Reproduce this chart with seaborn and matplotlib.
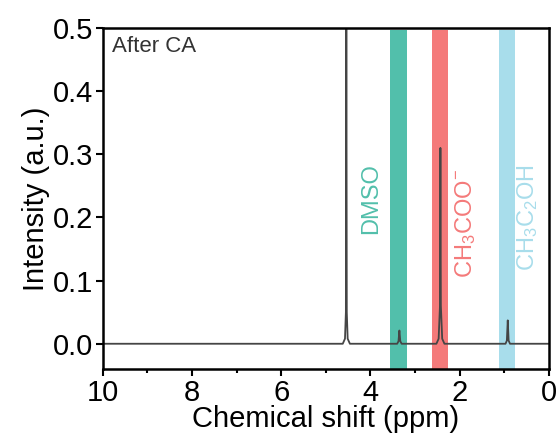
import seaborn as sns
import pandas as pd
import matplotlib.pyplot as plt
from matplotlib.ticker import MultipleLocator

# spectrum points (ppm, intensity)
shift = [10.0, 4.62, 4.57, 4.55, 4.54, 4.53, 4.51, 4.46,
         3.40, 3.37, 3.35, 3.33, 3.30,
         2.52, 2.47, 2.44, 2.43, 2.42, 2.39, 2.34,
         0.97, 0.94, 0.92, 0.90, 0.87, 0.0]
intensity = [0.0, 0.0, 0.008, 0.05, 0.6, 0.05, 0.008, 0.0,
             0.0, 0.004, 0.021, 0.004, 0.0,
             0.0, 0.008, 0.06, 0.31, 0.06, 0.008, 0.0,
             0.0, 0.005, 0.037, 0.005, 0.0, 0.0]

# assignment bands: label, left ppm, right ppm, colour
band_labels = ["DMSO", r"CH$_3$COO$^{-}$", r"CH$_3$C$_2$OH"]
band_left = [3.57, 2.61, 1.12]
band_right = [3.19, 2.27, 0.76]
band_colors = ["#52bfab", "#f47a7a", "#a8ddeb"]
label_x = [3.98, 1.87, 0.47]
label_y = [0.23, 0.19, 0.20]

df = pd.DataFrame({"shift": shift, "intensity": intensity})

sns.set_style("ticks")
plt.rcParams["font.family"] = ["Liberation Sans", "DejaVu Sans"]
plt.rcParams["mathtext.default"] = "regular"

fig = plt.figure(figsize=(5.56, 4.43), dpi=100)
ax = fig.add_axes([0.185, 0.167, 0.802, 0.770])

ylo, yhi = -0.04, 0.5
for lab, l, r, c, tx, ty in zip(band_labels, band_left, band_right,
                                band_colors, label_x, label_y):
    ax.axvspan(r, l, ymin=0, ymax=(0.497 - ylo) / (yhi - ylo),
               color=c, lw=0, zorder=1)
    ax.text(tx, ty, lab, rotation=90, color=c, fontsize=17,
            ha="center", va="center")

sns.lineplot(data=df, x="shift", y="intensity", ax=ax, color="#454545",
             lw=1.3, zorder=3)

ax.set_xlim(10, 0)
ax.set_ylim(ylo, yhi)
ax.xaxis.set_major_locator(MultipleLocator(2))
ax.xaxis.set_minor_locator(MultipleLocator(1))
ax.yaxis.set_major_locator(MultipleLocator(0.1))
ax.tick_params(axis="both", which="major", labelsize=21, width=1.5,
               length=5, direction="out", pad=2, colors="black")
ax.tick_params(axis="x", which="minor", width=1.5, length=3,
               direction="out", colors="black")
for s in ax.spines.values():
    s.set_linewidth(1.8)
    s.set_color("black")
    s.set_zorder(4)

ax.set_xlabel("Chemical shift (ppm)", fontsize=21, labelpad=-1,
              color="black")
ax.set_ylabel("Intensity (a.u.)", fontsize=21, labelpad=2, color="black")
ax.text(0.02, 0.975, "After CA", transform=ax.transAxes, fontsize=16,
        ha="left", va="top", color="#333333")

fig.savefig("out.png", dpi=100)
